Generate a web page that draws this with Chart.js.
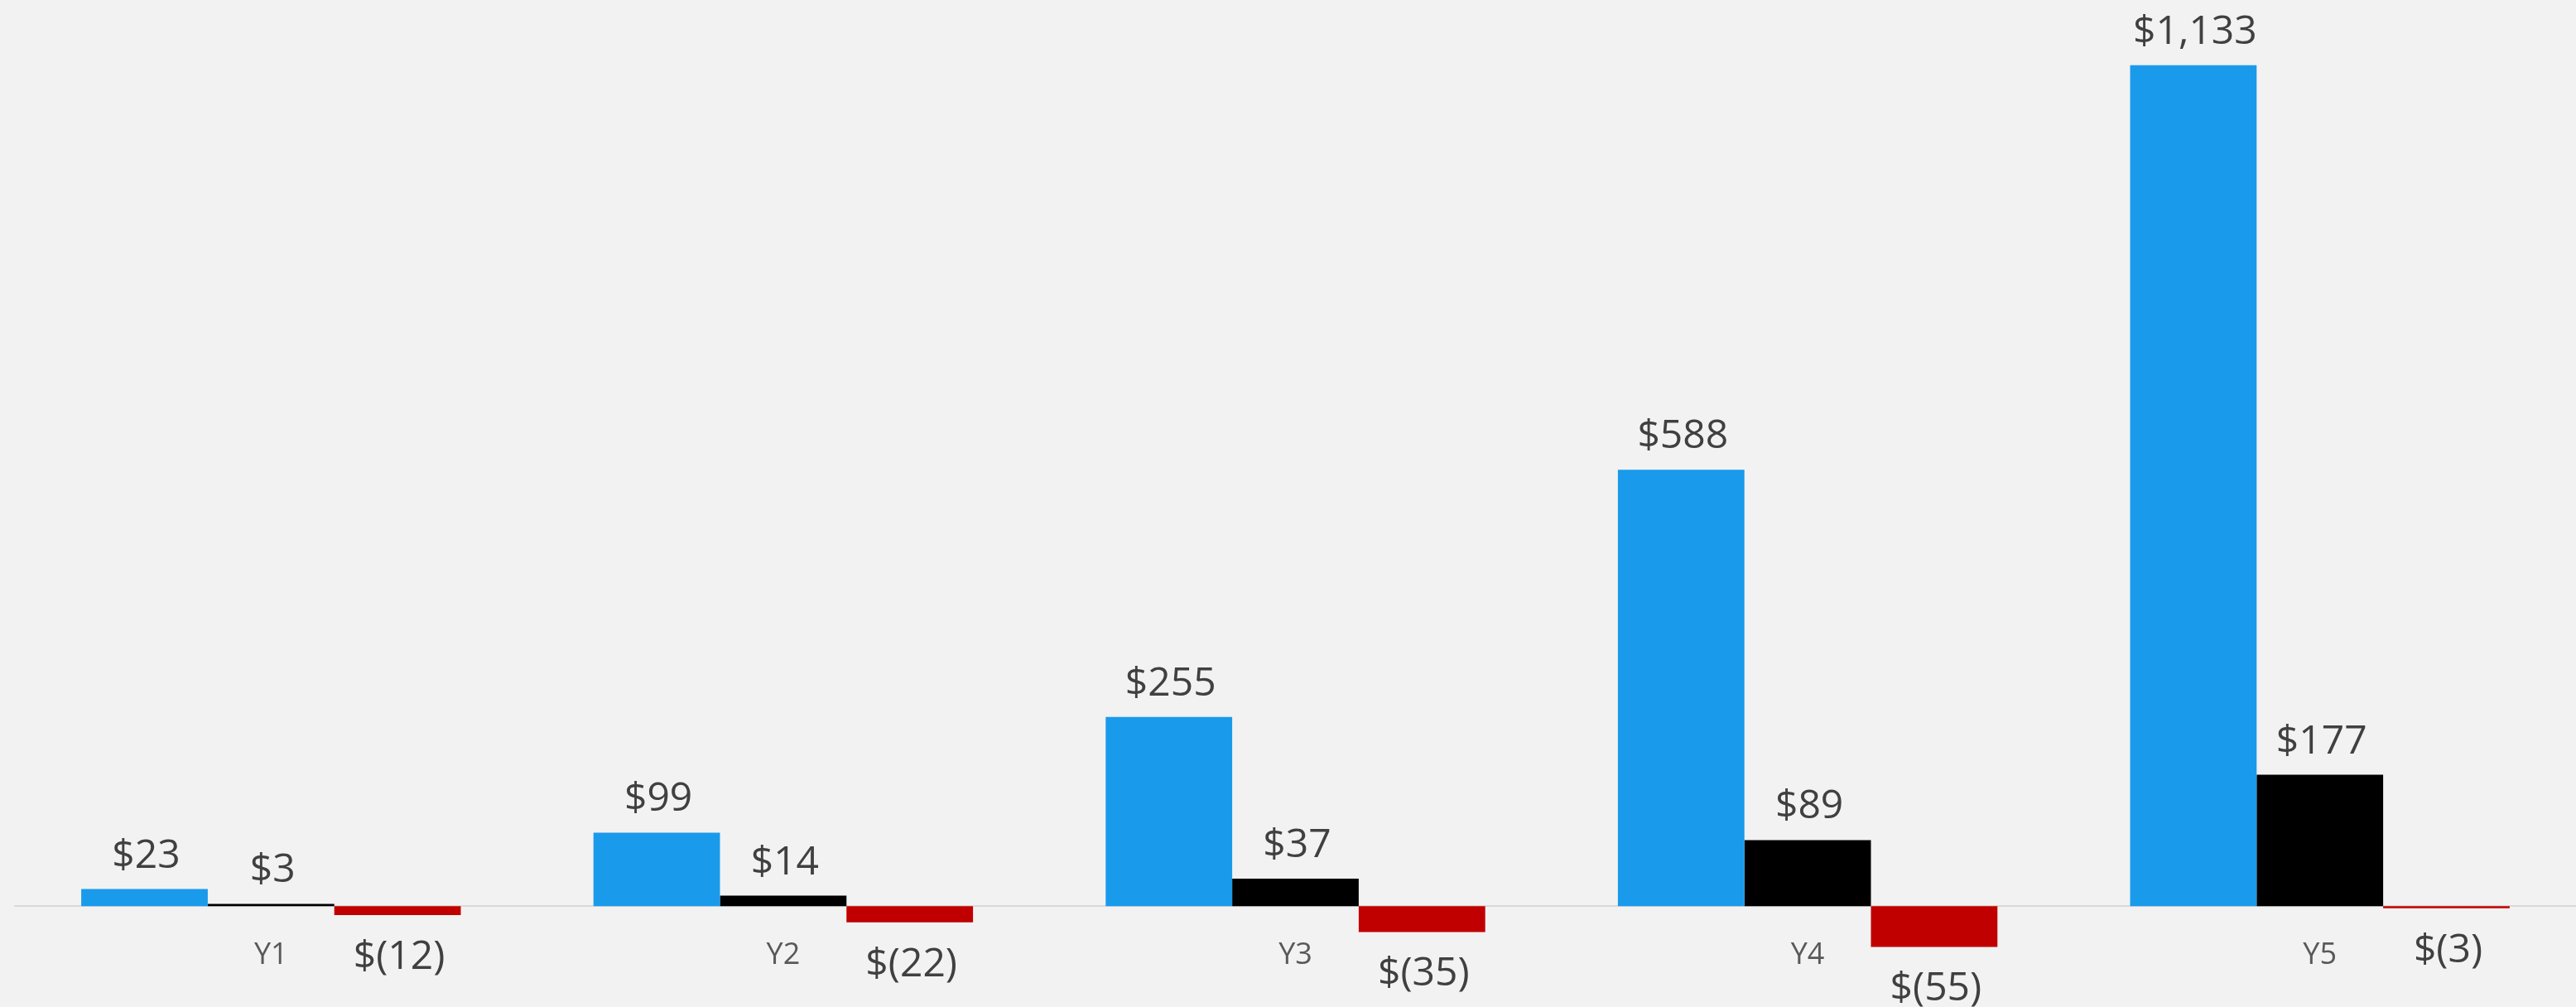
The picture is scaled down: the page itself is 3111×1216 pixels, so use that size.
<!DOCTYPE html>
<html>
<head>
<meta charset="utf-8">
<script src="https://cdn.jsdelivr.net/npm/chart.js@4/dist/chart.umd.min.js"></script>
<style>
    html, body { margin: 0; padding: 0; background: #f2f2f2; }
    #wrap { width: 3111px; height: 1216px; position: relative; }
</style>
</head>
<body>
<div id="wrap"><canvas id="mainChart"></canvas></div>
<script>
// chart data
const years = ['Y1', 'Y2', 'Y3', 'Y4', 'Y5'];
const blueValues = [23, 99, 255, 588, 1133];
const blackValues = [3, 14, 37, 89, 177];
const redValues = [-12, -22, -35, -55, -3];

// value axis range (not shown)
const yMin = -136;
const yMax = 1221;

function formatMoney(v) {
    const s = '$' + Math.abs(v).toLocaleString('en-US');
    return v < 0 ? s.replace('$', '$(') + ')' : s;
}

// draws the $ labels above / below each bar
const valueLabels = {
    id: 'valueLabels',
    afterDatasetsDraw(chart) {
        const ctx = chart.ctx;
        ctx.save();
        ctx.font = '48px "Open Sans"';
        ctx.fillStyle = '#404040';
        ctx.textAlign = 'center';
        ctx.textBaseline = 'alphabetic';
        chart.data.datasets.forEach((ds, i) => {
            const meta = chart.getDatasetMeta(i);
            meta.data.forEach((bar, j) => {
                const v = ds.data[j];
                const y = v < 0 ? bar.y + 65 : bar.y - 26;
                ctx.fillText(formatMoney(v), bar.x + 2, y);
            });
        });
        ctx.restore();
    }
};

function createChart() {
    const ctx = document.getElementById('mainChart');

    const data = {
        labels: years,
        datasets: [
            { data: blueValues, backgroundColor: '#1a9aeb' },
            { data: blackValues, backgroundColor: '#000000' },
            { data: redValues, backgroundColor: '#c00000' }
        ]
    };

    const config = {
        type: 'bar',
        data: data,
        options: {
            responsive: true,
            maintainAspectRatio: false,
            animation: false,
            datasets: {
                bar: {
                    barPercentage: 1,
                    categoryPercentage: 0.741
                }
            },
            layout: {
                padding: { left: 18, right: 0, top: 0, bottom: 0 }
            },
            plugins: {
                legend: { display: false },
                tooltip: { enabled: false }
            },
            scales: {
                x: {
                    position: { y: 0 },
                    grid: { display: false },
                    border: {
                        display: true,
                        color: '#d9d9d9',
                        width: 2
                    },
                    ticks: {
                        color: '#595959',
                        padding: 30,
                        font: {
                            family: 'Open Sans',
                            size: 36
                        }
                    }
                },
                y: {
                    display: false,
                    min: yMin,
                    max: yMax
                }
            }
        },
        plugins: [valueLabels]
    };

    new Chart(ctx, config);
}

createChart();
</script>
</body>
</html>
